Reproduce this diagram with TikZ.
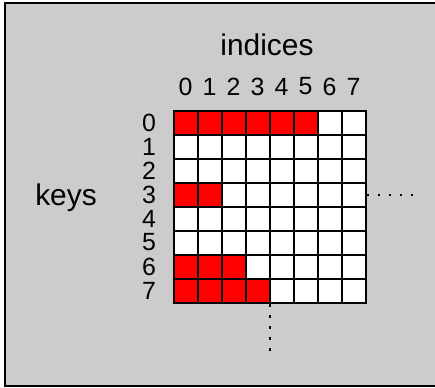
\documentclass[tikz,border=0pt]{standalone}
\usepackage{fontspec}
\setmainfont{Liberation Sans}
\begin{document}
\begin{tikzpicture}[x=1bp,y=-1bp,
  cell/.style={draw=black,line width=2bp,fill=white},
  hot/.style={cell,fill=red},
  num/.style={inner sep=0pt,font=\fontsize{25}{25}\selectfont},
  word/.style={inner sep=0pt,font=\fontsize{30}{30}\selectfont},
  dots/.style={line width=2bp,dash pattern=on 2.5bp off 8.5bp}]
\useasboundingbox (0,0) rectangle (435,387);
\fill[white] (0,0) rectangle (435,387);
\draw[line width=2bp,fill={rgb,255:red,204;green,204;blue,204}] (5.3,2.5) rectangle (445,385.5);
% grid
\foreach \r in {0,...,7}{
  \foreach \c in {0,...,7}{
    \draw[cell] (173.5+24*\c,111+24*\r) rectangle ++(24,24);
  }
}
\foreach \c in {0,...,5}{\draw[hot] (173.5+24*\c,111) rectangle ++(24,24);}
\foreach \c in {0,1}{\draw[hot] (173.5+24*\c,183) rectangle ++(24,24);}
\foreach \c in {0,1,2}{\draw[hot] (173.5+24*\c,255) rectangle ++(24,24);}
\foreach \c in {0,...,3}{\draw[hot] (173.5+24*\c,279) rectangle ++(24,24);}
\node[draw=black,line width=2bp,minimum size=192bp,inner sep=0pt] (grid) at (269.5,207) {};
% labels
\foreach \c in {0,...,7}{\node[num] (col\c) at (185.5+24*\c,86.5) {\c};}
\foreach \r in {0,...,7}{\node[num] (row\r) at (149,122.5+24*\r) {\r};}
\node[word,anchor=base] (indices) at (267,55.7) {indices};
\node[word,anchor=base] (keys) at (66,205) {keys};
% dotted continuations
\coordinate (hend) at (416,195);
\coordinate (vend) at (269.5,354);
\draw[dots] (grid.east |- hend) -- (hend);
\draw[dots] (vend |- grid.south) -- (vend);
\end{tikzpicture}
\end{document}
